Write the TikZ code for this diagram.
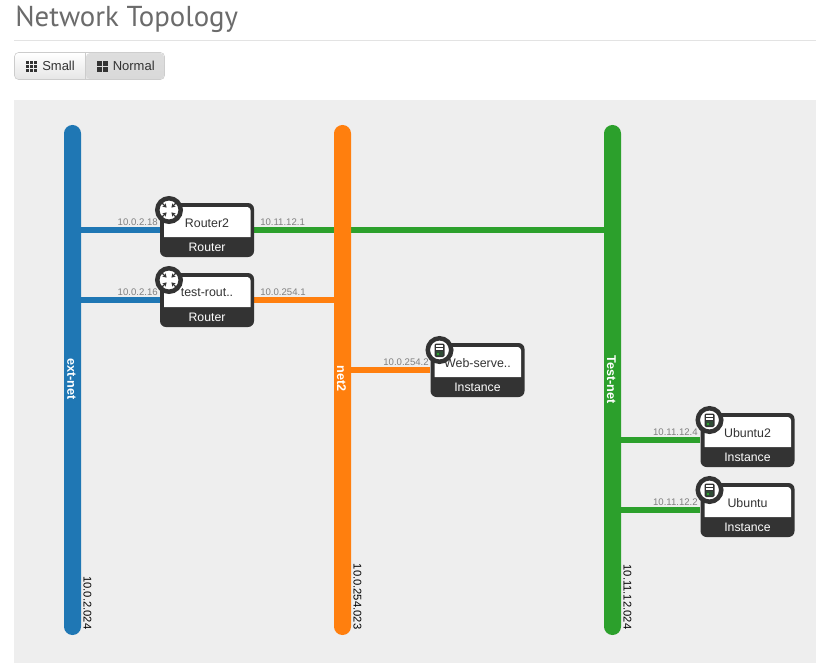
\documentclass[tikz,border=0pt]{standalone}
\usepackage{fontspec}
\setmainfont{Liberation Sans}
\newfontfamily\titlefont{PT Sans}
\usetikzlibrary{arrows.meta,calc}
\definecolor{extblue}{HTML}{1F77B4}
\definecolor{netorange}{HTML}{FF7F0E}
\definecolor{testgreen}{HTML}{2CA02C}
\definecolor{carddark}{HTML}{333333}
\definecolor{panelgrey}{HTML}{EEEEEE}
\definecolor{titlegrey}{HTML}{6B6B6B}
\definecolor{screen}{HTML}{2F4A36}
\newcommand{\fs}[1]{\fontsize{#1}{#1}\selectfont}
\pgfdeclarelayer{backdrop}
\pgfdeclarelayer{links}
\pgfsetlayers{backdrop,links,main}
\tikzset{
  x=0.75pt,y=-0.75pt,
  netbar/.style={rectangle,rounded corners=6.3pt,minimum width=12.75pt,minimum height=382.5pt,inner sep=0pt,draw=none},
  netname/.style={rotate=-90,text=white,font=\fs{9.5}\bfseries,inner sep=0pt},
  subnet/.style={rotate=-90,anchor=east,text=black,font=\fs{8.4},inner sep=0pt},
  cardbox/.style={rectangle,fill=carddark,rounded corners=4.5pt,minimum width=70.5pt,minimum height=40.5pt,inner sep=0pt},
  cardtitle/.style={text=carddark,font=\fs{9.3},inner sep=0pt},
  cardtype/.style={text=white,font=\fs{9.2},inner sep=0pt},
  iconring/.style={circle,draw=carddark,line width=3.4pt,fill=white,minimum size=17.6pt,inner sep=0pt},
  link/.style={line width=4.5pt},
  portlabel/.style={text=black!50,font=\fs{7.2},inner sep=0pt},
  btn/.style={font=\fs{9.75},text=carddark,inner sep=0pt},
}
\newcommand{\routerglyph}[1]{%
  \foreach \a in {45,135,225,315}{
    \draw[carddark,line width=1pt,-{Stealth[length=2.8pt,width=3.6pt]}] ($(#1)+(\a:8.4pt)$) -- ($(#1)+(\a:2.6pt)$);
  }}
\newcommand{\serverglyph}[1]{%
  \begin{scope}[shift={(#1)}]
    \fill[carddark,rounded corners=1pt] (-5,-6.5) rectangle (5,7);
    \fill[white] (-3.3,-4.8) rectangle (3.3,-3);
    \fill[white] (-3.3,-1.8) rectangle (3.3,-0.4);
    \fill[screen] (-3.3,1) rectangle (3.3,5.5);
    \fill[testgreen] (-2.5,3) rectangle (-0.7,4.7);
  \end{scope}}
\newcommand{\topocard}[6]{% name, x, y, title, type, glyph
  \node[cardbox] (#1) at (#2,#3) {};
  \fill[white] (#2-43,#3+7) -- (#2-43,#3-23) [rounded corners=2.5pt] -- (#2+43.5,#3-23) [sharp corners] -- (#2+43.5,#3+7) -- cycle;
  \node[cardtitle] (#1title) at (#2,#3-7) {#4};
  \node[cardtype] (#1type) at (#2,#3+17) {#5};
  \node[iconring] (#1icon) at (#2-38,#3-20) {};
  #6{#1icon}
}
\begin{document}
\begin{tikzpicture}
\useasboundingbox (0,0) rectangle (816,663);
\begin{pgfonlayer}{backdrop}
  \fill[white] (0,0) rectangle (816,663);
  \fill[panelgrey] (14,100) rectangle (816,663);
\end{pgfonlayer}
% header
\node[anchor=base west,inner sep=0pt,text=titlegrey,font=\titlefont\fs{21.6}] (title) at (15,27) {Network Topology};
\draw[black!11,line width=1.1pt] (14,40.5) -- (816,40.5);
% buttons
\shade[top color=white,bottom color=black!10,rounded corners=3pt,draw=black!20] (14.5,52.5) rectangle (164.5,79.5);
\shade[top color=black!13,bottom color=black!15,rounded corners=3pt] (86,53) -- (164,53) -- (164,79) -- (86,79) -- cycle;
\draw[black!20] (85.5,53) -- (85.5,79);
\foreach \i in {0,1,2}{\foreach \j in {0,1,2}{
  \fill[carddark] (26+\i*4,61+\j*4) rectangle ++(3,3);}}
\foreach \i in {0,1}{\foreach \j in {0,1}{
  \fill[carddark] (97+\i*6,61+\j*6) rectangle ++(5,5);}}
\node[btn,anchor=base west] (small) at (42,71) {Small};
\node[btn,anchor=base west] (normal) at (112.5,71) {Normal};
% networks
\node[netbar,fill=extblue] (ext) at (72.5,380) {};
\node[netbar,fill=netorange] (net2) at (342.5,380) {};
\node[netbar,fill=testgreen] (test) at (612.5,380) {};
\node[netname] (extname) at (71.5,379) {ext-net};
\node[netname] (net2name) at (341.5,379) {net2};
\node[netname] (testname) at (611.5,379.5) {Test-net};
\node[subnet] (extsub) at (87.5,629.5) {10.0.2.024};
\node[subnet] (net2sub) at (357.5,629.5) {10.0.254.023};
\node[subnet] (testsub) at (627.5,629.5) {10.11.12.024};
% cards
\topocard{rtwo}{207}{230}{Router2}{Router}{\routerglyph}
\topocard{rtest}{207}{300}{test-rout..}{Router}{\routerglyph}
\topocard{web}{477.5}{370}{Web-serve..}{Instance}{\serverglyph}
\topocard{utwo}{747.5}{440}{Ubuntu2}{Instance}{\serverglyph}
\topocard{uone}{747.5}{510}{Ubuntu}{Instance}{\serverglyph}
% links, under the bars and cards
\begin{pgfonlayer}{links}
  \draw[link,extblue] (rtwo.west) -- (ext.east |- rtwo.west);
  \draw[link,testgreen] (rtwo.east) -- (test.west |- rtwo.east);
  \draw[link,extblue] (rtest.west) -- (ext.east |- rtest.west);
  \draw[link,netorange] (rtest.east) -- (net2.west |- rtest.east);
  \draw[link,netorange] (web.west) -- (net2.east |- web.west);
  \draw[link,testgreen] (utwo.west) -- (test.east |- utwo.west);
  \draw[link,testgreen] (uone.west) -- (test.east |- uone.west);
\end{pgfonlayer}
% port labels
\node[portlabel,anchor=east] (p1) at (158,222.5) {10.0.2.18};
\node[portlabel,anchor=west] (p2) at (260,222.5) {10.11.12.1};
\node[portlabel,anchor=east] (p3) at (158,292.5) {10.0.2.16};
\node[portlabel,anchor=west] (p4) at (260,292.5) {10.0.254.1};
\node[portlabel,anchor=east] (p5) at (429,362.5) {10.0.254.2};
\node[portlabel,anchor=east] (p6) at (698,432.5) {10.11.12.4};
\node[portlabel,anchor=east] (p7) at (698,502.5) {10.11.12.2};
\end{tikzpicture}
\end{document}
